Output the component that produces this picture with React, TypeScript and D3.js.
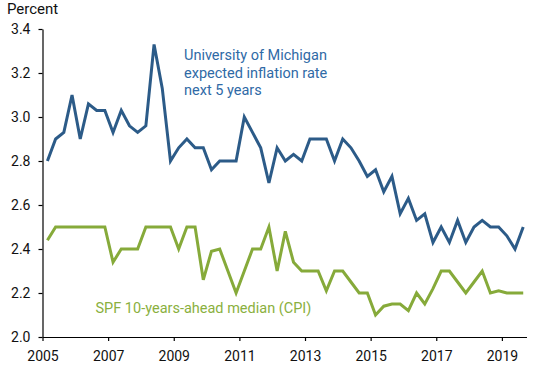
import * as d3 from 'd3';
import { useEffect, useRef } from 'react';

// Quarterly observations, 2005Q1 .. 2019Q3
const startYear = 2005;

const michigan = [
    2.80, 2.90, 2.93, 3.10,
    2.90, 3.06, 3.03, 3.03,
    2.93, 3.03, 2.96, 2.93,
    2.96, 3.33, 3.13, 2.80,
    2.86, 2.90, 2.86, 2.86,
    2.76, 2.80, 2.80, 2.80,
    3.00, 2.93, 2.86, 2.70,
    2.86, 2.80, 2.83, 2.80,
    2.90, 2.90, 2.90, 2.80,
    2.90, 2.86, 2.80, 2.73,
    2.76, 2.66, 2.73, 2.56,
    2.63, 2.53, 2.56, 2.43,
    2.50, 2.43, 2.53, 2.43,
    2.50, 2.53, 2.50, 2.50,
    2.46, 2.40, 2.50,
];

const spf = [
    2.44, 2.50, 2.50, 2.50,
    2.50, 2.50, 2.50, 2.50,
    2.34, 2.40, 2.40, 2.40,
    2.50, 2.50, 2.50, 2.50,
    2.40, 2.50, 2.50, 2.26,
    2.39, 2.40, 2.30, 2.20,
    2.30, 2.40, 2.40, 2.50,
    2.30, 2.48, 2.34, 2.30,
    2.30, 2.30, 2.21, 2.30,
    2.30, 2.25, 2.20, 2.20,
    2.10, 2.14, 2.15, 2.15,
    2.12, 2.20, 2.15, 2.22,
    2.30, 2.30, 2.25, 2.20,
    2.25, 2.30, 2.20, 2.21,
    2.20, 2.20, 2.20,
];

const xTicks = [2005, 2007, 2009, 2011, 2013, 2015, 2017, 2019];
const yTicks = [2.0, 2.2, 2.4, 2.6, 2.8, 3.0, 3.2, 3.4];

const michiganLabel = ["University of Michigan", "expected inflation rate", "next 5 years"];
const spfLabel = "SPF 10-years-ahead median (CPI)";

const BLUE = "#2c5b88";
const GREEN = "#86aa3a";
const FONT = "Roboto, 'Noto Sans', sans-serif";

// decimal-year position of each quarter (placed in its middle month)
const quarterTime = (i: number) => startYear + Math.floor(i / 4) + ((i % 4) * 3 + 1.8) / 12;

const App = () => {
    const ref = useRef<SVGSVGElement>(null);

    useEffect(() => {
        const width = 550;
        const height = 365;
        const left = 42.5, right = 526.5, top = 29, bottom = 337;

        const svg = d3.select(ref.current);
        svg.selectAll("*").remove();
        svg.attr("width", width).attr("height", height);

        const x = d3.scaleLinear().domain([2005, 2019.75]).range([left, right]);
        const y = d3.scaleLinear().domain([2.0, 3.4]).range([bottom, top]);

        // Axes
        const xAxis = svg.append("g")
            .attr("transform", `translate(0,${bottom})`)
            .call(d3.axisBottom(x).tickValues(xTicks).tickFormat(d3.format("d")).tickSize(4).tickPadding(10).tickSizeOuter(0));
        const yAxis = svg.append("g")
            .attr("transform", `translate(${left},0)`)
            .call(d3.axisLeft(y).tickValues(yTicks).tickFormat(d3.format(".1f")).tickSize(4).tickPadding(8).tickSizeOuter(0));

        [xAxis, yAxis].forEach(g => {
            g.select(".domain").attr("stroke", "#000").attr("stroke-width", 1.2);
            g.selectAll(".tick line").attr("stroke", "#000").attr("stroke-width", 1.2);
            g.selectAll(".tick text")
                .attr("fill", "#111")
                .style("font-family", FONT)
                .style("font-size", "14px");
        });

        svg.append("text")
            .attr("x", 7)
            .attr("y", 14)
            .attr("fill", "#111")
            .style("font-family", FONT)
            .style("font-size", "15px")
            .text("Percent");

        // Lines
        const line = d3.line<number>()
            .x((_, i) => x(quarterTime(i)))
            .y(d => y(d));

        svg.append("path")
            .datum(spf)
            .attr("fill", "none")
            .attr("stroke", GREEN)
            .attr("stroke-width", 3)
            .attr("d", line);

        svg.append("path")
            .datum(michigan)
            .attr("fill", "none")
            .attr("stroke", BLUE)
            .attr("stroke-width", 3)
            .attr("d", line);

        // Labels
        const lbl = svg.append("text")
            .attr("fill", "#2f6aa6")
            .style("font-family", FONT)
            .style("font-size", "14.5px");
        michiganLabel.forEach((t, i) => {
            lbl.append("tspan").attr("x", 184).attr("y", 60 + i * 17.5).text(t);
        });

        svg.append("text")
            .attr("x", 95.5)
            .attr("y", 313)
            .attr("fill", "#8ab03e")
            .style("font-family", FONT)
            .style("font-size", "14.5px")
            .text(spfLabel);
    }, []);

    return (
        <div style={{ position: "absolute", left: 0, top: 0 }}>
            <svg ref={ref} style={{ display: "block" }} />
        </div>
    );
};

export default App;
